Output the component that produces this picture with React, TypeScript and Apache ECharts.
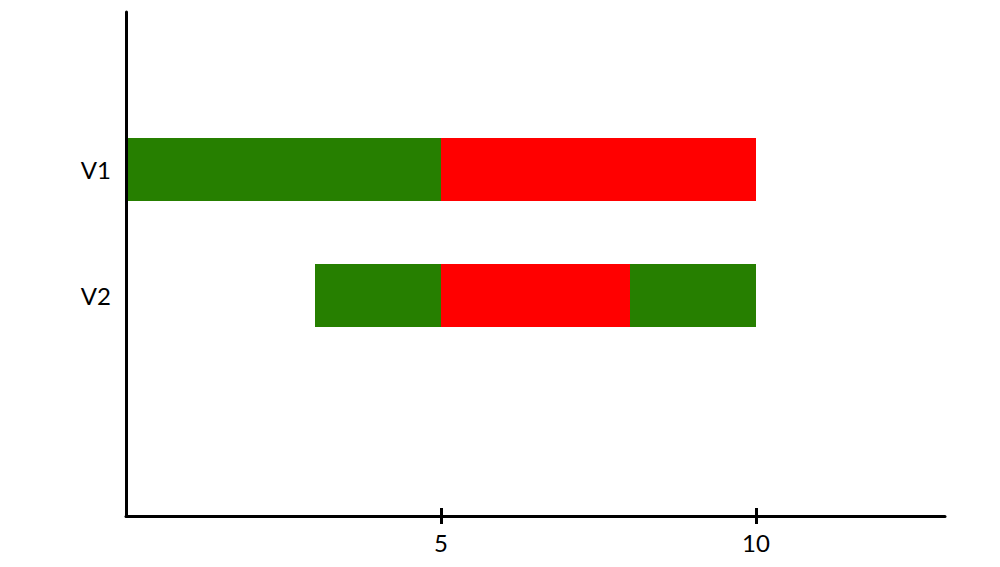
import React, { useEffect, useRef } from "react";
import * as echarts from "echarts";

const slots = ["", "", "V1", "", "V2", "", "", ""];
const starts = [0, 0, 0, 0, 3, 0, 0, 0];
const seg1Green = [0, 0, 5, 0, 2, 0, 0, 0];
const seg2Red = [0, 0, 5, 0, 3, 0, 0, 0];
const seg3Green = [0, 0, 0, 0, 2, 0, 0, 0];
const xTicks = [5, 10];

const GREEN = "#267F00";
const RED = "#FF0000";
const FONT = "Lato";

export default function App() {
  const ref = useRef<HTMLDivElement>(null);
  useEffect(() => {
    const chart = echarts.init(ref.current!, null, { renderer: "svg" });
    const mk = (name: string, data: number[], color: string) => ({
      name,
      type: "bar",
      stack: "g",
      data: data.map((v) => (v === 0 ? "-" : v)),
      barWidth: "100%",
      barCategoryGap: 0,
      itemStyle: { color },
      silent: true,
    });
    chart.setOption({
      animation: false,
      backgroundColor: "#ffffff",
      grid: { left: 126, right: 55, top: 12, bottom: 51, containLabel: false },
      xAxis: [
        {
          type: "value",
          min: 0,
          max: 13,
          interval: 5,
          splitLine: { show: false },
          axisLine: { show: true, lineStyle: { color: "#000", width: 3 } },
          axisTick: {
            show: true,
            customValues: xTicks,
            length: 8,
            lineStyle: { color: "#000", width: 3 },
          },
          axisLabel: {
            customValues: xTicks,
            color: "#000",
            fontFamily: FONT,
            fontSize: 24,
            margin: 14,
          },
          z: 5,
        },
        {
          type: "value",
          position: "bottom",
          offset: -8,
          min: 0,
          max: 13,
          interval: 5,
          splitLine: { show: false },
          axisLine: { show: false },
          axisTick: {
            show: true,
            customValues: xTicks,
            length: 8,
            lineStyle: { color: "#000", width: 3 },
          },
          axisLabel: { show: false },
          z: 5,
        },
      ],
      yAxis: {
        type: "category",
        inverse: true,
        data: slots,
        axisLine: { show: true, lineStyle: { color: "#000", width: 3 } },
        axisTick: { show: false },
        splitLine: { show: false },
        axisLabel: {
          color: "#000",
          fontFamily: FONT,
          fontSize: 24,
          margin: 15,
          interval: 0,
        },
        z: 5,
      },
      series: [
        {
          name: "offset",
          type: "bar",
          stack: "g",
          data: starts,
          barWidth: "100%",
          itemStyle: { color: "transparent" },
          silent: true,
        },
        mk("seg1", seg1Green, GREEN),
        mk("seg2", seg2Red, RED),
        mk("seg3", seg3Green, GREEN),
      ],
    });
    return () => chart.dispose();
  }, []);
  return <div ref={ref} style={{ width: 1000, height: 567, margin: -8 }} />;
}
